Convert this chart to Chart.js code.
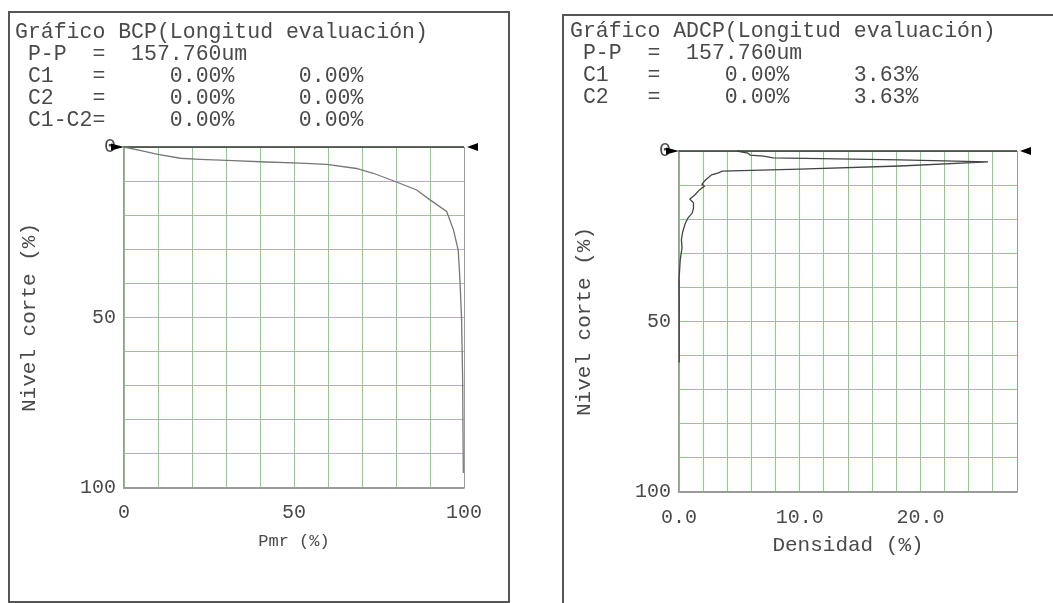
<!DOCTYPE html>
<html lang="es">
<head>
<meta charset="UTF-8">
<title>Gráfico BCP / ADCP</title>
<script src="https://cdn.jsdelivr.net/npm/chart.js"></script>
<style>
  body { margin: 0; background: #fff; width: 1053px; height: 603px; overflow: hidden; position: relative; }
  .panel { position: absolute; box-sizing: border-box; }
  #bcpPanel { left: 8px; top: 11px; width: 502px; height: 592px; border: 2px solid #555; }
  #adcpPanel { left: 562px; top: 14px; width: 491px; height: 589px; border-left: 2px solid #555; border-top: 2px solid #555; }
  canvas { display: block; }
</style>
</head>
<body>
<div class="panel" id="bcpPanel"><canvas id="bcpChart" width="498" height="588"></canvas></div>
<div class="panel" id="adcpPanel"><canvas id="adcpChart" width="489" height="587"></canvas></div>

<script>
// BCP curve: material ratio Pmr (%) at each cutting level (%)
const bcpLevel = [0, 1.2, 2.1, 3.3, 3.6, 4.0, 4.4, 4.7, 5.1, 6.3, 7.7, 9.9, 12.6, 15.5, 18.9, 24.3, 30.2, 39, 50.7, 68.3, 95.6];
const bcpPmr   = [0, 5.7, 9.6, 16.5, 22.3, 32.1, 41.9, 51.8, 59.6, 68.4, 73.3, 79.2, 86.1, 90, 94.9, 96.9, 98.3, 98.8, 99.3, 99.6, 99.8];

// ADCP curve: amplitude density (%) at each cutting level (%)
const adcpLevel   = [0, 0.6, 1.2, 1.5, 2.0, 2.6, 3.2, 4.4, 5.3, 5.9, 6.5, 7.0, 8.5, 9.7, 10.3, 11.4, 12.9, 14.1, 15.2, 16.7, 18.2, 19.6, 21.4, 23.8, 26, 28.4, 32, 37.8, 45, 52, 62];
const adcpDensity = [4.8, 5.7, 5.9, 7.0, 7.8, 18.3, 25.6, 18.3, 10, 3.6, 3.2, 2.7, 2.2, 1.9, 2.1, 1.7, 1.3, 0.9, 1.2, 1.2, 1.1, 0.75, 0.5, 0.3, 0.2, 0.25, 0.1, 0, 0.05, 0, 0];

// cursor level (C1 = C2) and labelled ticks
const cursorLevel = 0;
const levelTicks = [0, 50, 100];
const pmrTicks = [0, 50, 100];
const densityTicks = [0, 10, 20];

// header rows
const bcpHeader = [
  'Gráfico BCP(Longitud evaluación)',
  ' P-P  =  157.760um',
  ' C1   =     0.00%     0.00%',
  ' C2   =     0.00%     0.00%',
  ' C1-C2=     0.00%     0.00%'
];
const adcpHeader = [
  'Gráfico ADCP(Longitud evaluación)',
  ' P-P  =  157.760um',
  ' C1   =     0.00%     3.63%',
  ' C2   =     0.00%     3.63%'
];

const MONO = "'Liberation Mono', 'Courier New', monospace";
const GRID_GREEN = '#7fd67f';
const EDGE_GREY = '#9a9a9a';
const TEXT = '#4a4a4a';

// little black cursor arrows sitting on the level line
function cursorArrow(pointsRight) {
  const c = document.createElement('canvas');
  c.width = 30; c.height = 12;
  const g = c.getContext('2d');
  g.fillStyle = '#000';
  g.beginPath();
  if (pointsRight) {
    g.moveTo(15, 6); g.lineTo(2, 2.5); g.lineTo(2, 9.5);
  } else {
    g.moveTo(18, 6); g.lineTo(29, 2); g.lineTo(29, 10);
  }
  g.closePath();
  g.fill();
  return c;
}

function makeChart(id, o) {
  const curve = o.x.map((v, i) => ({ x: v, y: o.y[i] }));
  new Chart(document.getElementById(id), {
    type: 'scatter',
    data: {
      datasets: [
        {
          data: curve,
          showLine: true,
          borderColor: o.lineColor,
          borderWidth: 1.3,
          pointRadius: 0,
          tension: 0,
          clip: false
        },
        {
          // cutting level line between the two cursors
          data: [{ x: o.xMin, y: cursorLevel }, { x: o.xMax, y: cursorLevel }],
          showLine: true,
          borderColor: '#333',
          borderWidth: 1.5,
          pointStyle: [cursorArrow(true), cursorArrow(false)],
          pointRadius: 6,
          clip: false
        }
      ]
    },
    options: {
      responsive: false,
      animation: false,
      layout: { padding: { left: o.padLeft, right: o.padRight, top: 0, bottom: 0 } },
      plugins: {
        legend: { display: false },
        tooltip: { enabled: false },
        title: {
          display: true,
          text: o.header,
          align: 'start',
          color: TEXT,
          font: { family: MONO, size: 21.5, weight: 'normal', lineHeight: '22px' },
          padding: { top: o.titleTop, bottom: o.titleBottom }
        }
      },
      scales: {
        x: {
          type: 'linear',
          min: o.xMin,
          max: o.xMax,
          afterFit: s => { s.height = o.xAxisHeight; },
          grid: {
            drawTicks: false,
            lineWidth: 1,
            color: c => (c.tick && c.tick.value === o.xMax) ? EDGE_GREY : GRID_GREEN
          },
          border: { color: EDGE_GREY, width: 1.5 },
          ticks: {
            stepSize: o.xStep,
            autoSkip: false,
            maxRotation: 0,
            padding: o.xTickPad,
            color: TEXT,
            font: { family: MONO, size: 20 },
            callback: o.xLabel
          },
          title: {
            display: true,
            text: o.xTitle,
            color: TEXT,
            font: { family: MONO, size: o.xTitleSize },
            padding: { top: 0, bottom: o.xTitleBottom }
          }
        },
        y: {
          type: 'linear',
          reverse: true,
          min: 0,
          max: 100,
          afterFit: s => { s.width = o.yAxisWidth; },
          grid: {
            drawTicks: false,
            lineWidth: 1,
            color: c => (c.tick && c.tick.value === 100) ? EDGE_GREY : GRID_GREEN
          },
          border: { color: EDGE_GREY, width: 1.5 },
          ticks: {
            stepSize: 10,
            autoSkip: false,
            padding: 8,
            color: TEXT,
            font: { family: MONO, size: 20 },
            callback: v => levelTicks.includes(v) ? String(v) : ''
          },
          title: {
            display: true,
            text: 'Nivel corte (%)',
            color: TEXT,
            font: { family: MONO, size: 21 },
            padding: { top: 2, bottom: 0 }
          }
        }
      }
    }
  });
}

makeChart('bcpChart', {
  x: bcpPmr, y: bcpLevel, lineColor: '#777',
  header: bcpHeader,
  xMin: 0, xMax: 100, xStep: 10,
  xLabel: v => pmrTicks.includes(v) ? String(v) : '',
  xTitle: 'Pmr (%)', xTitleSize: 17, xTitleBottom: 49, xTickPad: 13,
  padLeft: 5, padRight: 44, titleTop: 8, titleBottom: 16,
  xAxisHeight: 113, yAxisWidth: 109
});

makeChart('adcpChart', {
  x: adcpDensity, y: adcpLevel, lineColor: '#444',
  header: adcpHeader,
  xMin: 0, xMax: 28, xStep: 2,
  xLabel: v => densityTicks.includes(v) ? v.toFixed(1) : '',
  xTitle: 'Densidad (%)', xTitleSize: 21, xTitleBottom: 45, xTickPad: 14,
  padLeft: 6, padRight: 36, titleTop: 4, titleBottom: 43,
  xAxisHeight: 111, yAxisWidth: 109
});
</script>
</body>
</html>
